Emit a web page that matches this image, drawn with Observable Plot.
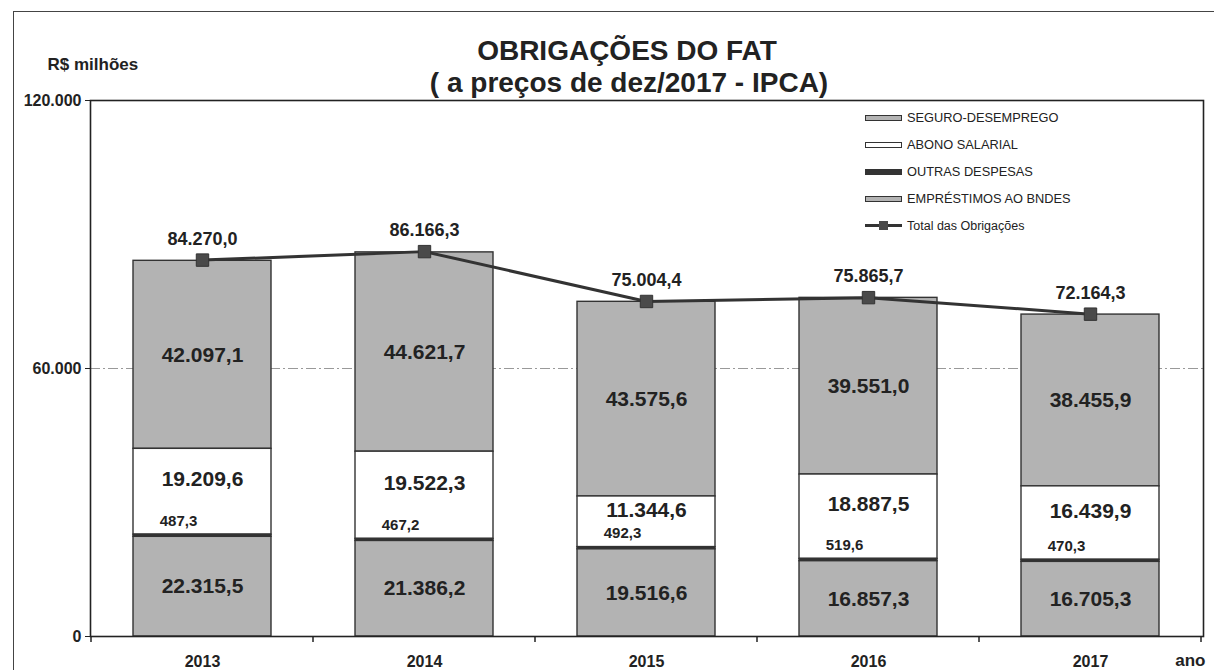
<!DOCTYPE html>
<html>
<head>
<meta charset="utf-8">
<script src="https://cdn.jsdelivr.net/npm/d3@7"></script>
<script src="https://cdn.jsdelivr.net/npm/@observablehq/plot@0.6"></script>
<style>
  html, body { margin: 0; padding: 0; background: #fff; overflow: hidden; }
  #wrap { position: relative; width: 1214px; height: 670px; font-family: "Liberation Sans", Arial, sans-serif; }
  #border { position: absolute; left: 13px; top: 11px; width: 1300px; height: 800px; border-left: 1.5px solid #444; border-top: 1.5px solid #444; }
  #legend { position: absolute; left: 865px; top: 104px; font-size: 12.8px; color: #222; }
  .row { position: relative; height: 27px; display: flex; align-items: center; }
  .sw { width: 37px; height: 6px; box-sizing: border-box; margin-right: 5px; position: relative; }
  .lab { white-space: nowrap; }
</style>
</head>
<body>
<div id="wrap"><div id="border"></div><div id="chart"></div><div id="legend"></div></div>
<script>
// ---- data ----
const years = ["2013", "2014", "2015", "2016", "2017"];
const seriesNames = ["SEGURO-DESEMPREGO", "ABONO SALARIAL", "OUTRAS DESPESAS", "EMPRÉSTIMOS AO BNDES"];
const seguro = [42097.1, 44621.7, 43575.6, 39551.0, 38455.9];
const abono = [19209.6, 19522.3, 11344.6, 18887.5, 16439.9];
const outras = [487.3, 467.2, 492.3, 519.6, 470.3];
const bndes = [22315.5, 21386.2, 19516.6, 16857.3, 16705.3];
const totals = [84270.0, 86166.3, 75004.4, 75865.7, 72164.3];
const totalName = "Total das Obrigações";
const yTicks = [0, 60000, 120000];

const seriesValues = [seguro, abono, outras, bndes];
const fills = ["#b3b3b3", "#ffffff", "#333333", "#b3b3b3"];
const stackOrder = [seriesNames[3], seriesNames[2], seriesNames[1], seriesNames[0]];

const rows = [];
years.forEach((yr, i) => seriesNames.forEach((s, k) => rows.push({year: yr, series: s, value: seriesValues[k][i]})));
const totalRows = years.map((yr, i) => ({year: yr, total: totals[i]}));

const loc = d3.formatLocale({decimal: ",", thousands: ".", grouping: [3], currency: ["R$ ", ""]});
const fmt1 = loc.format(",.1f");
const fmt0 = loc.format(",.0f");

const SEG = seriesNames[0], ABO = seriesNames[1], OUT = seriesNames[2], BND = seriesNames[3];

function boundaryTicks(index, scales, values, dimensions) {
  const x = scales.x;
  const bw = typeof x.bandwidth === "function" ? x.bandwidth() : (x.bandwidth ?? 0);
  const centers = years.map(y => x(y) + bw / 2);
  const step = centers[1] - centers[0];
  const pos = [centers[0] - step / 2, ...centers.map(c => c + step / 2)];
  const yb = dimensions.height - dimensions.marginBottom;
  const g = d3.create("svg:g");
  g.selectAll("line").data(pos).join("line")
    .attr("x1", d => d).attr("x2", d => d)
    .attr("y1", yb).attr("y2", yb + 6)
    .attr("stroke", "#222").attr("stroke-width", 1.5);
  return g.node();
}

const stackOpts = (textFn, extra) => Plot.stackY({
  x: "year", y: "value", z: "series", order: stackOrder,
  text: textFn, ...extra
});

const chart = Plot.plot({
  width: 1214,
  height: 670,
  marginLeft: 90,
  marginRight: 11,
  marginTop: 100,
  marginBottom: 34,
  style: {fontFamily: "'Liberation Sans', Arial, sans-serif", fontWeight: "bold", fontSize: "16px", color: "#222", background: "transparent"},
  x: {domain: years, paddingInner: 0.377, paddingOuter: 0.1885, tickSize: 0, tickPadding: 19, label: null},
  y: {domain: [0, 120000], ticks: yTicks, tickFormat: fmt0, tickSize: 5, tickPadding: 4, label: null},
  color: {domain: seriesNames, range: fills},
  marks: [
    Plot.ruleY([60000], {stroke: "#999", strokeWidth: 1, strokeDasharray: "10,3,2,3"}),
    Plot.barY(rows, {x: "year", y: "value", fill: "series", order: stackOrder, stroke: "#333", strokeWidth: 1.4}),
    Plot.text(rows, stackOpts(d => (d.series === SEG || d.series === BND) ? fmt1(d.value) : "", {fontSize: 21, fill: "#222"})),
    Plot.text(rows, stackOpts(d => d.series === ABO ? fmt1(d.value) : "", {fontSize: 21, fill: "#222", dy: -12})),
    Plot.text(rows, stackOpts(d => d.series === OUT ? fmt1(d.value) : "", {fontSize: 15, fill: "#222", dy: -15, dx: -24})),
    Plot.line(totalRows, {x: "year", y: "total", stroke: "#333", strokeWidth: 3}),
    Plot.dot(totalRows, {x: "year", y: "total", symbol: "square", r: 7, fill: "#4a4a4a", stroke: "#333", strokeWidth: 1}),
    Plot.text(totalRows, {x: "year", y: "total", text: d => fmt1(d.total), dy: -21, fontSize: 18, fill: "#222"}),
    Plot.frame({stroke: "#222", strokeWidth: 1.6}),
    boundaryTicks,
    Plot.text(["OBRIGAÇÕES DO FAT"], {frameAnchor: "top", text: d => d, dx: -20, dy: -60, fontSize: 28, fill: "#222"}),
    Plot.text(["( a preços de dez/2017 - IPCA)"], {frameAnchor: "top", text: d => d, dx: -18, dy: -28, fontSize: 28, fill: "#222"}),
    Plot.text(["R$ milhões"], {frameAnchor: "top-left", text: d => d, textAnchor: "start", dx: -43, dy: -43, fontSize: 17, fill: "#222"}),
    Plot.text(["ano"], {frameAnchor: "bottom-right", text: d => d, textAnchor: "end", dx: 2, dy: 29, fontSize: 17, fill: "#222"})
  ]
});
document.getElementById("chart").appendChild(chart);

// ---- legend (HTML overlay) ----
const legend = document.getElementById("legend");
const swStyles = [
  "background:#b3b3b3;border:1px solid #333;",
  "background:#fff;border:1px solid #333;",
  "background:#333;height:6px;",
  "background:#b3b3b3;border:1px solid #333;"
];
seriesNames.forEach((s, k) => {
  const r = document.createElement("div");
  r.className = "row";
  r.innerHTML = `<div class="sw" style="${swStyles[k]}"></div><span class="lab">${s}</span>`;
  legend.appendChild(r);
});
const tr = document.createElement("div");
tr.className = "row";
tr.innerHTML = `<div class="sw" style="height:3px;background:#333;"><div style="position:absolute;left:14px;top:-3px;width:9px;height:9px;background:#4a4a4a;"></div></div><span class="lab" style="font-size:12.5px">${totalName}</span>`;
legend.appendChild(tr);
</script>
</body>
</html>
